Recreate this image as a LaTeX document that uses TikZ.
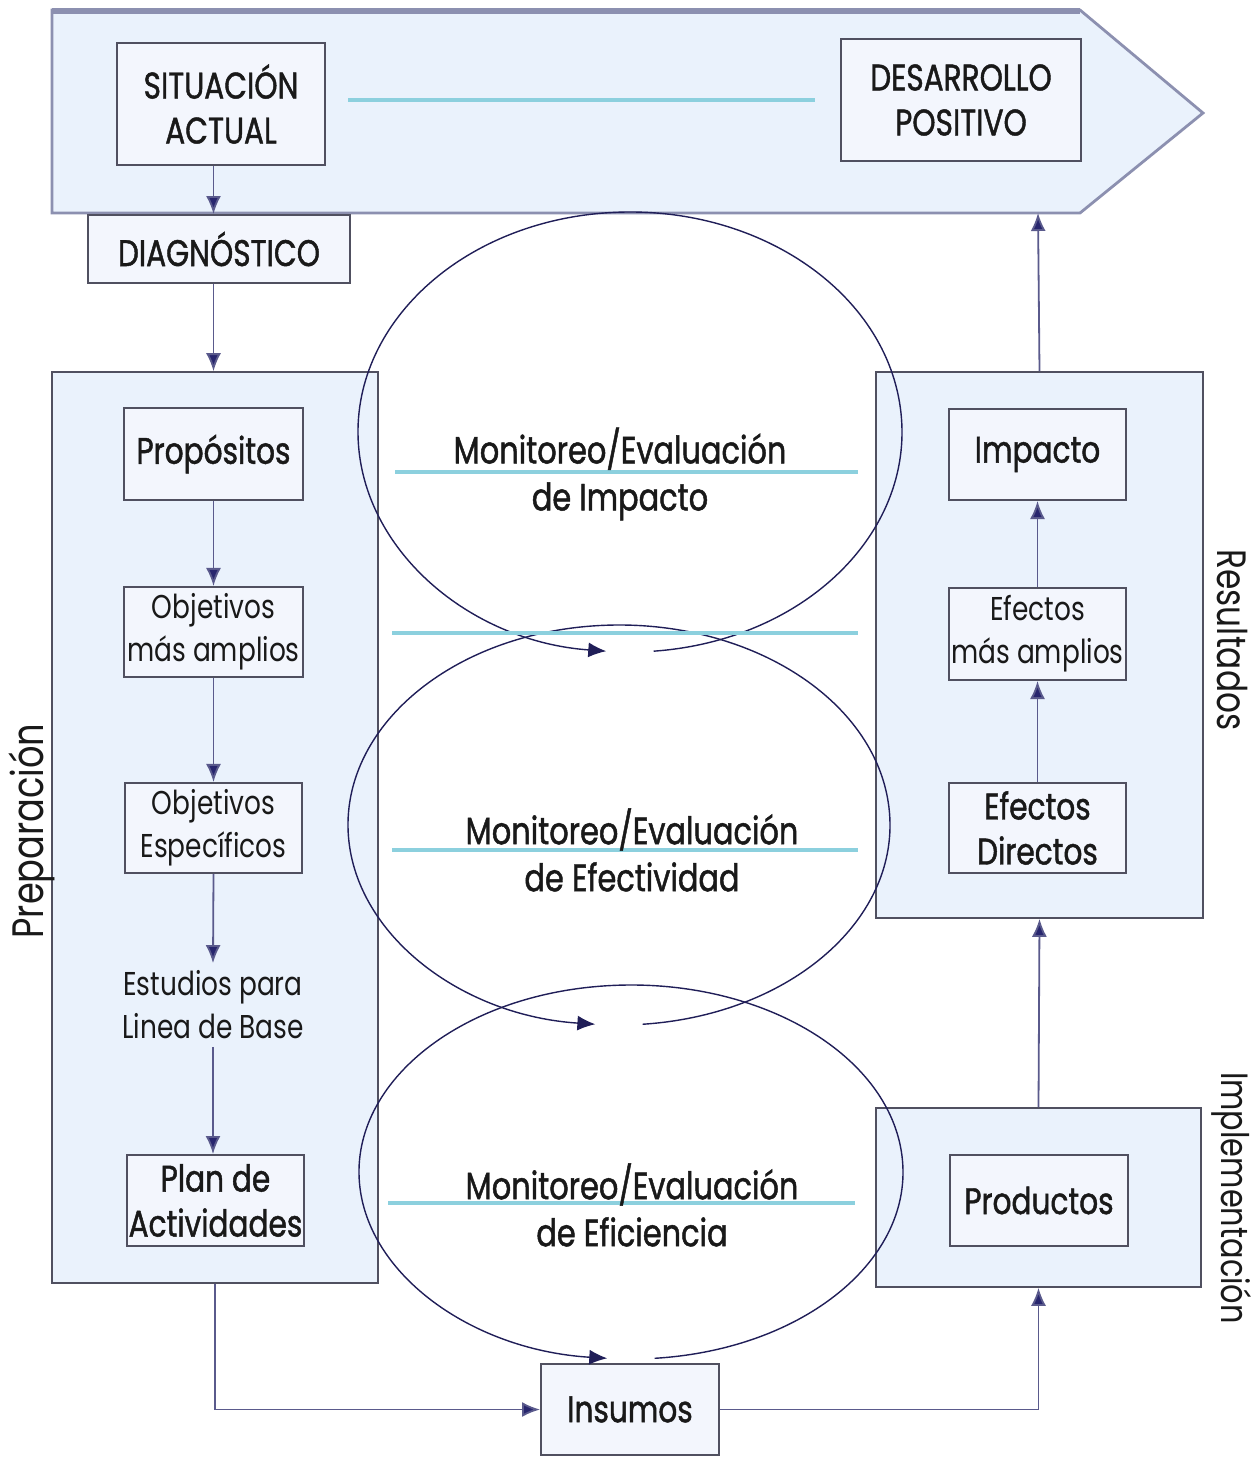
\documentclass[tikz,border=0pt]{standalone}
\usepackage{fontspec}
\setmainfont{Poppins}[FakeStretch=0.8]
\newfontfamily\gruesa{Poppins}[FakeStretch=0.8, FakeBold=1.2]
\usetikzlibrary{positioning, arrows.meta, calc}

\definecolor{panelazul}{RGB}{234,242,252}
\definecolor{cajaazul}{RGB}{243,246,253}
\definecolor{bordegris}{RGB}{80,80,96}
\definecolor{bordebanda}{RGB}{140,144,176}
\definecolor{lineacian}{RGB}{140,208,222}
\definecolor{navy}{RGB}{40,38,110}
\definecolor{trazo}{RGB}{90,90,140}
\definecolor{texto}{RGB}{25,25,25}

\begin{document}
\begin{tikzpicture}[x=0.5pt, y=-0.5pt,
                panel/.style={rectangle, draw=bordegris, fill=panelazul, line width=0.8pt},
                caja/.style={rectangle, draw=bordegris, fill=cajaazul, line width=1pt, text=texto, align=center, inner xsep=1pt, font=\gruesa\fontsize{18.5}{22.5}\selectfont},
                cajachica/.style={caja, font=\fontsize{16.5}{21.5}\selectfont},
                flecha/.style={draw=trazo, line width=0.9pt, -{Latex[length=9pt, width=7.5pt, fill=navy]}},
                ciclo/.style={draw=navy!80!black, line width=0.7pt, -{Latex[length=9pt, width=7.5pt]}},
                lineac/.style={draw=lineacian, line width=1.8pt},
                etiqueta/.style={text=texto, align=center, font=\gruesa\fontsize{19}{23.5}\selectfont},
                lateral/.style={text=texto},
                ]
                \useasboundingbox (0,0) rectangle (1252,1457);
                %Banda superior
                \draw[fill=panelazul, draw=bordebanda, line width=1.4pt] (52,10) -- (1080,10) -- (1203,113) -- (1080,213) -- (52,213) -- cycle;
                \draw[draw=bordebanda, line width=2.6pt] (52,11) -- (1080,11);
                \coordinate (banda) at (1038,213);
                \draw[lineac] (348,100) -- (815,100);
                
                %Paneles
                \node[panel, minimum width=163pt, minimum height=455.5pt] (prep) at (215,827.5) {};
                \node[panel, minimum width=163.5pt, minimum height=273pt] (res)  at (1039.5,645) {};
                \node[panel, minimum width=162.5pt, minimum height=89.5pt] (impl) at (1038.5,1197.5) {};
                
                %Nodes
                \node[caja, minimum width=104pt, minimum height=61pt] (sit)  at (221,104)   {SITUACIÓN\\ACTUAL};
                \node[caja, minimum width=120pt, minimum height=61pt] (des)  at (961,100)   {DESARROLLO\\POSITIVO};
                \node[caja, minimum width=131pt, minimum height=34pt] (diag) at (219,249)   {DIAGNÓSTICO};
                \node[caja, minimum width=89.5pt, minimum height=46pt] (prop) at (213.5,454) {Propósitos};
                \node[cajachica, minimum width=89.5pt, minimum height=45pt] (obja) at (213.5,632) {Objetivos\\más amplios};
                \node[cajachica, minimum width=88.5pt, minimum height=45pt] (obje) at (213.5,828) {Objetivos\\Específicos};
                \node[cajachica, draw=none, fill=none] (est) at (213,1005) {Estudios para\\Linea de Base};
                \node[caja, minimum width=88.5pt, minimum height=45.5pt] (plan) at (215.5,1200.5) {Plan de\\Actividades};
                \node[caja, minimum width=88.5pt, minimum height=45.5pt] (imp)  at (1037.5,454.5) {Impacto};
                \node[cajachica, minimum width=88.5pt, minimum height=46pt] (efa) at (1037.5,634) {Efectos\\más amplios};
                \node[caja, minimum width=88.5pt, minimum height=45pt] (efd)  at (1037.5,828) {Efectos\\Directos};
                \node[caja, minimum width=89pt, minimum height=45.5pt] (prod) at (1039,1200.5) {Productos};
                \node[caja, minimum width=89pt, minimum height=45.5pt] (ins)  at (630,1409.5) {Insumos};
                
                %Rotulos laterales
                \node[lateral, rotate=90, font=\fontsize{22}{26}\selectfont]  (lprep) at (32,831)    {Preparación};
                \node[lateral, rotate=-90, font=\fontsize{20.5}{24}\selectfont] (lres)  at (1232,640)  {Resultados};
                \node[lateral, rotate=-90, font=\fontsize{19}{22}\selectfont] (limpl) at (1232,1198) {Implementación};
                
                %Ciclos de monitoreo
                \coordinate (c1) at (630,432);
                \coordinate (c2) at (619,825);
                \coordinate (c3) at (631,1172);
                \draw[ciclo] (c1) ++(85:272 and 220) arc[start angle=85, end angle=-265, x radius=272, y radius=220];
                \draw[ciclo] (c2) ++(85:271 and 200) arc[start angle=85, end angle=-265, x radius=271, y radius=200];
                \draw[ciclo] (c3) ++(85:272 and 187) arc[start angle=85, end angle=-265, x radius=272, y radius=187];
                
                \draw[lineac] (395,472) -- (858,472);
                \draw[lineac] (392,633) -- (858,633);
                \draw[lineac] (392,850) -- (858,850);
                \draw[lineac] (388,1203) -- (855,1203);
                \node[etiqueta] (m1) at (620,474)  {Monitoreo/Evaluación\\de Impacto};
                \node[etiqueta] (m2) at (632,850)  {Monitoreo/Evaluación\\de Efectividad};
                \node[etiqueta] (m3) at (632,1205) {Monitoreo/Evaluación\\de Eficiencia};
                
                %Lines
                \draw[flecha] (sit.south -| obja) -- (diag.north -| obja);
                \draw[flecha] (diag.south -| obja) -- (prep.north -| obja);
                \draw[flecha] (prop.south) -- (obja.north);
                \draw[flecha] (obja.south) -- (obje.north);
                \draw[flecha] (obje.south) -- (est.north);
                \draw[flecha] (est.south) -- (plan.north -| est.south);
                \draw[flecha] (prep.south) |- (ins.west);
                \draw[flecha] (ins.east) -| (impl.south);
                \draw[flecha] (impl.north) -- (res.south);
                \draw[flecha] (efd.north) -- (efa.south);
                \draw[flecha] (efa.north) -- (imp.south);
                \draw[flecha] (res.north) -- (banda);
\end{tikzpicture}
\end{document}
